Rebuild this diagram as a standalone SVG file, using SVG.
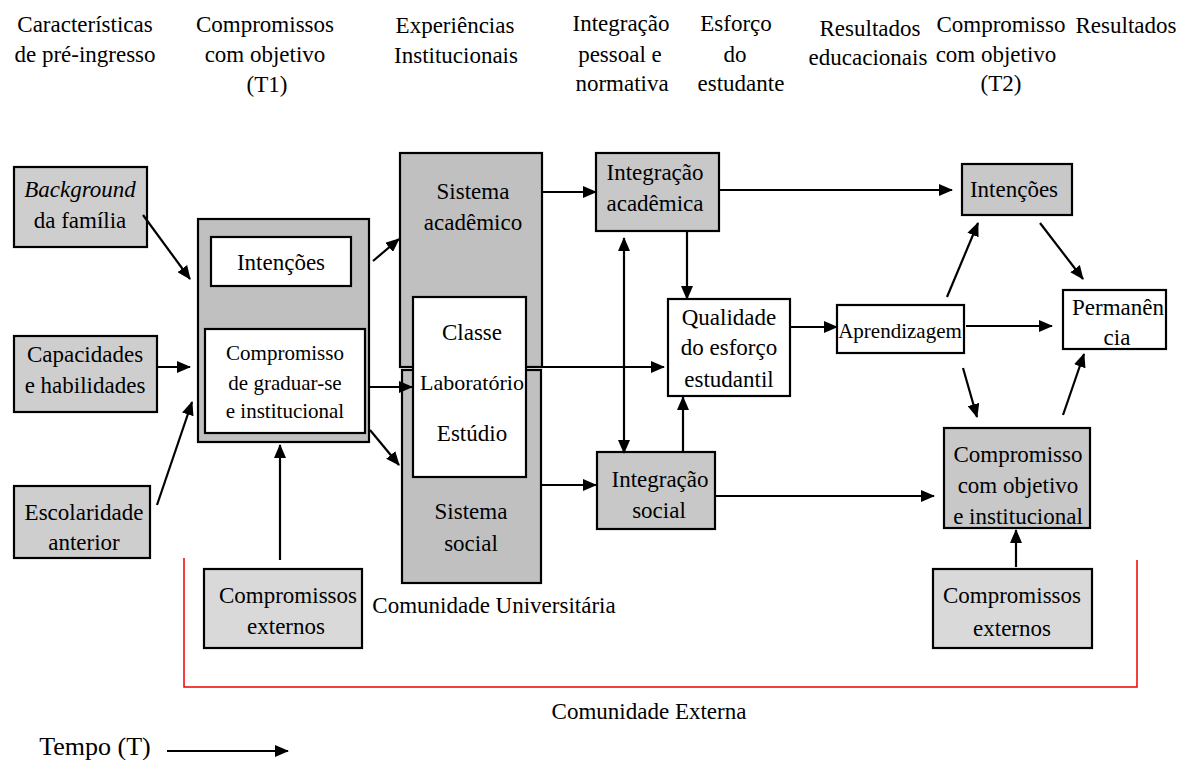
<svg xmlns="http://www.w3.org/2000/svg" width="1190" height="760" viewBox="0 0 1190 760">
<defs>
<marker id="ah" markerWidth="14" markerHeight="12" refX="13" refY="6" orient="auto-start-reverse" markerUnits="userSpaceOnUse"><path d="M0,0 L14,6 L0,12 z" fill="#000"/></marker>
<style>
text{font-family:"Liberation Serif","Times New Roman",serif;font-size:23px;fill:#000;text-anchor:middle}
text.sm{font-size:21px}
text.md{font-size:22px}
text.lg{font-size:26px}
text.it{font-style:italic}
.box{stroke:#000;stroke-width:2.2}
.g1{fill:#cecece}
.g2{fill:#c0c0c0}
.g3{fill:#c8c8c8}
.g4{fill:#d9d9d9}
.w{fill:#fff}
.c line{stroke:#000;stroke-width:2.2;fill:none;marker-end:url(#ah)}
.c line.both{marker-start:url(#ah)}
</style>
</defs>
<rect width="1190" height="760" fill="#fff"/>

<g id="headers">
<text x="85" y="32">Características</text>
<text x="85" y="62">de pré-ingresso</text>
<text x="265" y="32">Compromissos</text>
<text x="265" y="62">com objetivo</text>
<text x="267" y="92">(T1)</text>
<text x="455" y="33">Experiências</text>
<text x="456" y="63">Institucionais</text>
<text x="621" y="31">Integração</text>
<text x="620" y="62">pessoal e</text>
<text x="622" y="91">normativa</text>
<text x="736" y="31">Esforço</text>
<text x="735" y="62">do</text>
<text x="741" y="91">estudante</text>
<text x="870" y="36">Resultados</text>
<text x="868" y="65">educacionais</text>
<text x="1001" y="32">Compromisso</text>
<text x="996" y="62">com objetivo</text>
<text x="1001" y="91">(T2)</text>
<text x="1126" y="33">Resultados</text>
</g>

<g id="comunidade-externa">
<polyline points="184,558 184,687 1137,687 1137,560" fill="none" stroke="#e00" stroke-width="1.5"/>
<text x="649" y="719">Comunidade Externa</text>
</g>

<g id="background">
<rect class="box g1" x="14" y="167" width="133" height="80"/>
<text class="it" x="80" y="197">Background</text>
<text x="80" y="228">da família</text>
</g>
<g id="capacidades">
<rect class="box g1" x="14" y="336" width="143" height="76"/>
<text x="85" y="362">Capacidades</text>
<text x="85" y="393">e habilidades</text>
</g>
<g id="escolaridade">
<rect class="box g1" x="14" y="486" width="136" height="72"/>
<text x="84" y="520">Escolaridade</text>
<text x="84" y="550">anterior</text>
</g>

<g id="compromissos-t1">
<rect class="box g2" x="198" y="219" width="171" height="223"/>
<rect class="box w" x="211" y="237" width="140" height="49"/>
<text x="281" y="270">Intenções</text>
<rect class="box w" x="205" y="329" width="160" height="104"/>
<text class="sm" x="285" y="360">Compromisso</text>
<text class="sm" x="285" y="390">de graduar-se</text>
<text class="sm" x="285" y="418">e institucional</text>
</g>

<g id="ext-left">
<rect class="box g4" x="204" y="569" width="158" height="79"/>
<text x="288" y="603">Compromissos</text>
<text x="286" y="634">externos</text>
</g>

<g id="sistema-academico">
<rect class="box g2" x="400" y="153" width="142" height="214"/>
<text x="473" y="199">Sistema</text>
<text x="473" y="230">acadêmico</text>
</g>
<g id="sistema-social">
<rect class="box g2" x="402" y="370" width="139" height="213"/>
<text x="471" y="519">Sistema</text>
<text x="471" y="551">social</text>
</g>
<g id="classe">
<rect class="box w" x="413" y="297" width="113" height="180"/>
<text x="472" y="340">Classe</text>
<text class="md" x="472" y="390">Laboratório</text>
<text x="472" y="441">Estúdio</text>
</g>
<text id="comunidade-universitaria" x="494" y="613">Comunidade Universitária</text>

<g id="integracao-academica">
<rect class="box g3" x="596" y="153" width="123" height="78"/>
<text x="655" y="180">Integração</text>
<text x="655" y="211">acadêmica</text>
</g>
<g id="integracao-social">
<rect class="box g3" x="597" y="452" width="118" height="77"/>
<text x="660" y="487">Integração</text>
<text x="659" y="518">social</text>
</g>
<g id="qualidade">
<rect class="box w" x="668" y="299" width="122" height="97"/>
<text x="729" y="325">Qualidade</text>
<text x="729" y="355">do esforço</text>
<text x="729" y="387">estudantil</text>
</g>
<g id="aprendizagem">
<rect class="box w" x="837" y="305" width="127" height="48"/>
<text class="sm" x="900" y="338">Aprendizagem</text>
</g>
<g id="intencoes-t2">
<rect class="box g3" x="962" y="164" width="110" height="51"/>
<text x="1014" y="197">Intenções</text>
</g>
<g id="permanencia">
<rect class="box w" x="1063" y="290" width="103" height="59"/>
<text x="1118" y="315">Permanên</text>
<text x="1117" y="345">cia</text>
</g>
<g id="compromisso-t2">
<rect class="box g3" x="944" y="428" width="146" height="100"/>
<text x="1018" y="462">Compromisso</text>
<text x="1018" y="493">com objetivo</text>
<text x="1018" y="524">e institucional</text>
</g>
<g id="ext-right">
<rect class="box g4" x="933" y="569" width="159" height="79"/>
<text x="1012" y="603">Compromissos</text>
<text x="1012" y="636">externos</text>
</g>

<g id="connectors" class="c">
<line x1="143" y1="215" x2="190" y2="279"/>
<line x1="157" y1="367" x2="190" y2="367"/>
<line x1="157" y1="505" x2="192" y2="402"/>
<line x1="280" y1="560" x2="280" y2="445"/>
<line x1="373" y1="261" x2="399" y2="239"/>
<line x1="369" y1="387" x2="412" y2="387"/>
<line x1="370" y1="430" x2="399" y2="465"/>
<line x1="542" y1="192" x2="596" y2="192"/>
<line x1="526" y1="367" x2="664" y2="367"/>
<line x1="541" y1="485" x2="596" y2="485"/>
<line x1="687" y1="231" x2="687" y2="299"/>
<line class="both" x1="624" y1="238" x2="624" y2="453"/>
<line x1="683" y1="452" x2="683" y2="397"/>
<line x1="719" y1="190" x2="952" y2="190"/>
<line x1="715" y1="496" x2="934" y2="496"/>
<line x1="790" y1="327" x2="837" y2="327"/>
<line x1="966" y1="326" x2="1052" y2="326"/>
<line x1="947" y1="297" x2="978" y2="223"/>
<line x1="1040" y1="223" x2="1083" y2="279"/>
<line x1="963" y1="368" x2="977" y2="417"/>
<line x1="1063" y1="415" x2="1084" y2="354"/>
<line x1="1016" y1="567" x2="1016" y2="530"/>
<line x1="167" y1="751" x2="288" y2="751"/>
</g>

<text class="lg" x="95" y="755">Tempo (T)</text>
</svg>
